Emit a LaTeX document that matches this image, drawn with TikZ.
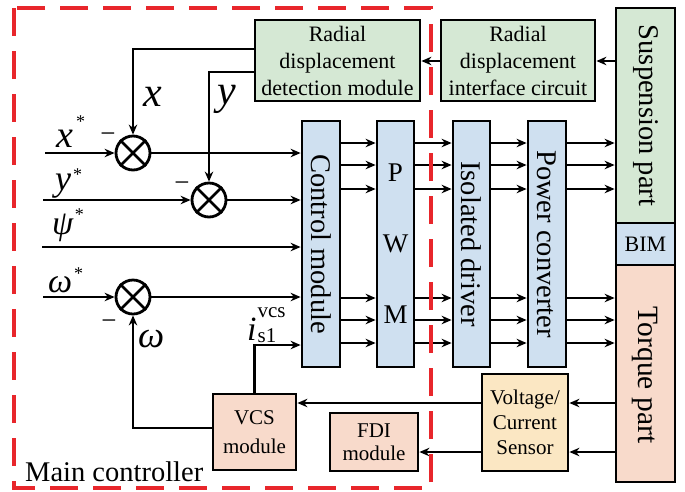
\documentclass[tikz,border=0pt]{standalone}
\usepackage{fontspec}
\setmainfont{Liberation Serif}
\usetikzlibrary{arrows.meta}
\definecolor{gfill}{HTML}{D5E8D4}
\definecolor{bfill}{HTML}{CFE0F0}
\definecolor{pfill}{HTML}{F8DACB}
\definecolor{yfill}{HTML}{FBE7C3}
\definecolor{redline}{HTML}{E8262B}
\begin{document}
\begin{tikzpicture}[x=1pt,y=-1pt,
  box/.style={draw, line width=2.8pt, inner sep=0pt, align=center},
  arr/.style={line width=2.6pt, -{Stealth[length=10pt,width=8.5pt]}},
  ln/.style={line width=2.6pt},
  sumj/.style={draw, circle, line width=2.8pt, minimum size=34pt, inner sep=0pt},
  vtext/.style={rotate=-90, inner sep=0pt, font=\fontsize{28.5}{30}\selectfont},
  lab/.style={inner sep=0pt, anchor=base west},
  f22/.style={font=\fontsize{22}{27}\selectfont},
  f21/.style={font=\fontsize{21}{25}\selectfont},
]
\useasboundingbox (0,0) rectangle (685,491);

% boxes
\node[box, fill=gfill, f22, minimum width=165pt, minimum height=81pt] (det) at (337.5,60.5) {Radial\\displacement\\detection module};
\node[box, fill=gfill, f22, minimum width=154pt, minimum height=81pt] (intf) at (518,60.5) {Radial\\displacement\\interface circuit};
\node[box, fill=gfill, minimum width=59pt, minimum height=215pt] (susp) at (645.5,115.5) {};
\node[vtext] (suspt) at (susp) {Suspension part};
\node[box, fill=bfill, f22, minimum width=59pt, minimum height=42pt] (bim) at (645.5,244) {BIM};
\node[box, fill=pfill, minimum width=59pt, minimum height=217pt] (torque) at (645.5,373.5) {};
\node[vtext, font=\fontsize{29.5}{30}\selectfont] (torquet) at (645.5,375) {Torque part};

\node[box, fill=bfill, minimum width=38pt, minimum height=246pt] (ctrl) at (321,244) {};
\node[vtext] (ctrlt) at (ctrl) {Control module};
\node[box, fill=bfill, minimum width=37pt, minimum height=246pt] (pwm) at (395.5,244) {};
\node[inner sep=0pt, font=\fontsize{27}{27}\selectfont] (pwmp) at (395.5,173) {P};
\node[inner sep=0pt, font=\fontsize{27}{27}\selectfont] (pwmw) at (395.5,244) {W};
\node[inner sep=0pt, font=\fontsize{27}{27}\selectfont] (pwmm) at (395.5,315) {M};
\node[box, fill=bfill, minimum width=37pt, minimum height=246pt] (iso) at (471.5,244) {};
\node[vtext] (isot) at (iso) {Isolated driver};
\node[box, fill=bfill, minimum width=38pt, minimum height=246pt] (pow) at (547,244) {};
\node[vtext] (powt) at (pow) {Power converter};

\node[box, fill=pfill, font=\fontsize{21}{29}\selectfont, minimum width=83pt, minimum height=76pt] (vcs) at (254.5,432) {VCS\\module};
\node[box, fill=yfill, f21, minimum width=86pt, minimum height=97pt] (sens) at (525,422.5) {Voltage/\\Current\\Sensor};
\node[box, fill=pfill, font=\fontsize{21}{23}\selectfont, minimum width=88pt, minimum height=58pt] (fdi) at (374,442) {FDI\\module};

% summing junctions
\node[sumj] (s1) at (133,153) {};
\node[sumj] (s2) at (209,200) {};
\node[sumj] (s3) at (133,297) {};
\foreach \s in {s1,s2,s3} {
  \draw[ln] (\s.north west) -- (\s.south east) (\s.north east) -- (\s.south west);
}

% inputs
\coordinate (inx) at (45,153);
\coordinate (iny) at (43,200);
\coordinate (inpsi) at (42,247);
\coordinate (inw) at (43,297);
\draw[arr] (inx) -- (s1);
\draw[arr] (s1) -- (ctrl.west |- s1);
\draw[arr] (iny) -- (s2);
\draw[arr] (s2) -- (ctrl.west |- s2);
\draw[arr] (inpsi) -- (ctrl.west |- inpsi);
\draw[arr] (inw) -- (s3);
\draw[arr] (s3) -- (ctrl.west |- s3);

% feedback
\draw[arr] (det.west |- 0,49) -| (s1.north);
\draw[arr] (det.west |- 0,72) -| (s2.north);
\draw[arr] (vcs.west |- 0,428) -| (s3.south);
\draw[arr] (vcs.north) |- (ctrl.west |- 0,345);

% parallel signal paths
\foreach \yy in {143,165,189,298,320,343} {
  \draw[arr] (ctrl.east |- 0,\yy) -- (pwm.west |- 0,\yy);
  \draw[arr] (pwm.east |- 0,\yy) -- (iso.west |- 0,\yy);
  \draw[arr] (iso.east |- 0,\yy) -- (pow.west |- 0,\yy);
}
\foreach \yy in {143,165,189} {
  \draw[arr] (pow.east |- 0,\yy) -- (susp.west |- 0,\yy);
}
\foreach \yy in {298,320,343} {
  \draw[arr] (pow.east |- 0,\yy) -- (torque.west |- 0,\yy);
}

% radial path
\draw[arr] (susp.west |- 0,61) -- (intf.east |- 0,61);
\draw[arr] (intf.west |- 0,61) -- (det.east |- 0,61);

% sensor paths
\draw[arr] (torque.west |- 0,403) -- (sens.east |- 0,403);
\draw[arr] (sens.west |- 0,403) -- (vcs.east |- 0,403);
\draw[arr] (torque.west |- 0,452) -- (sens.east |- 0,452);
\draw[arr] (sens.west |- 0,452) -- (fdi.east |- 0,452);

% labels
\node[lab, anchor=base] (xl) at (153,106) {\fontsize{42}{42}\selectfont\textit{x}};
\node[lab, anchor=base] (yl) at (227,104) {\fontsize{42}{42}\selectfont\textit{y}};
\node[lab] (xs) at (56,147) {\fontsize{38}{38}\selectfont\textit{x}\kern3pt\raisebox{20pt}{\fontsize{18}{18}\selectfont *}};
\node[lab] (ys) at (55,190) {\fontsize{36}{36}\selectfont\textit{y}\kern2pt\raisebox{10pt}{\fontsize{18}{18}\selectfont *}};
\node[lab] (psis) at (52,234) {\fontsize{34}{34}\selectfont\textit{ψ}\kern1pt\raisebox{14pt}{\fontsize{18}{18}\selectfont *}};
\node[lab] (ws) at (48,292) {\fontsize{34}{34}\selectfont\textit{ω}\kern2pt\raisebox{13pt}{\fontsize{18}{18}\selectfont *}};
\node[lab] (wl) at (138,347) {\fontsize{37}{37}\selectfont\textit{ω}};
\node[lab, anchor=center] (m1) at (108,138) {\fontsize{27}{27}\selectfont −};
\node[lab, anchor=center] (m2) at (182,187) {\fontsize{27}{27}\selectfont −};
\node[lab, anchor=center] (m3) at (109,325) {\fontsize{27}{27}\selectfont −};
\node[lab] (il) at (247,340) {\fontsize{34}{34}\selectfont\textit{i}\fontsize{21}{21}\selectfont\kern1pt\rlap{\raisebox{23pt}{vcs}}\raisebox{-2pt}{s1}};

% main controller frame
\node[lab] (mc) at (25,481) {\fontsize{28.5}{28.5}\selectfont Main controller};
\draw[redline, line width=3.5pt, dash pattern=on 28pt off 15pt] (14,8) rectangle (431,488);
\end{tikzpicture}
\end{document}
